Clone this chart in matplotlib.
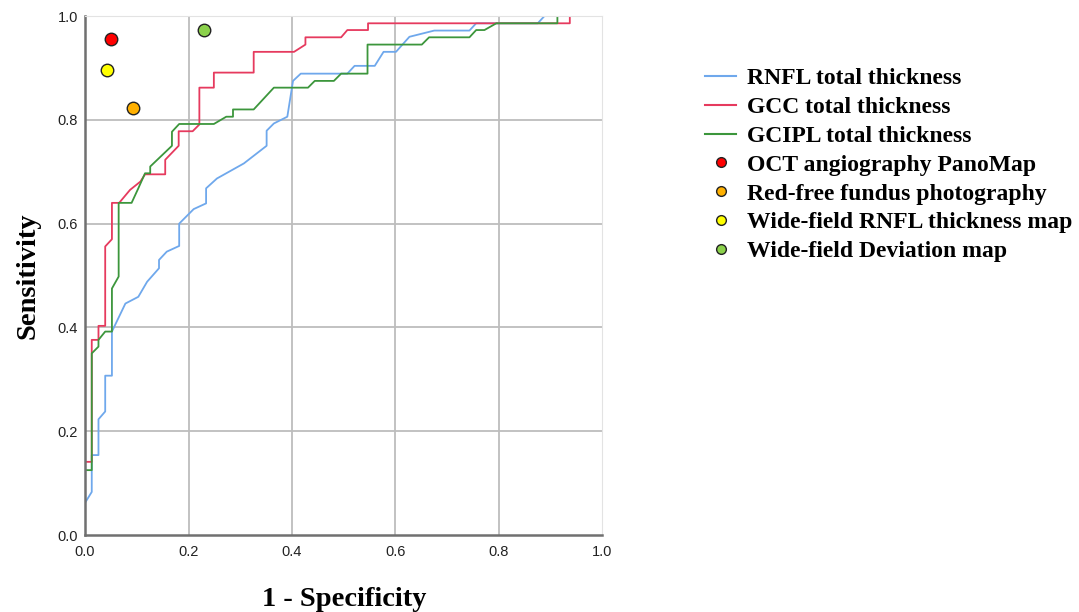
import matplotlib
matplotlib.use("Agg")
import matplotlib.pyplot as plt
from matplotlib.lines import Line2D

# ROC curves (1 - specificity, sensitivity)
rnfl_x = [0, 0, 0.013, 0.013, 0.026, 0.026, 0.039, 0.039, 0.052, 0.052, 0.078, 0.103,
          0.120, 0.143, 0.143, 0.158, 0.182, 0.182, 0.210, 0.234, 0.234, 0.255, 0.307,
          0.351, 0.351, 0.365, 0.391, 0.402, 0.417, 0.507, 0.521, 0.560, 0.577, 0.601,
          0.627, 0.675, 0.743, 0.756, 0.875, 0.888, 1.0]
rnfl_y = [0, 0.062, 0.083, 0.154, 0.154, 0.223, 0.238, 0.307, 0.307, 0.392, 0.446, 0.459,
          0.488, 0.514, 0.530, 0.546, 0.557, 0.600, 0.628, 0.639, 0.668, 0.687, 0.716,
          0.750, 0.779, 0.793, 0.806, 0.875, 0.889, 0.889, 0.904, 0.904, 0.931, 0.931,
          0.960, 0.972, 0.972, 0.986, 0.986, 1.0, 1.0]

gcc_x = [0, 0, 0.013, 0.013, 0.026, 0.026, 0.039, 0.039, 0.052, 0.052, 0.066, 0.087,
         0.107, 0.116, 0.155, 0.155, 0.181, 0.181, 0.208, 0.221, 0.221, 0.249, 0.249,
         0.326, 0.326, 0.404, 0.426, 0.426, 0.495, 0.507, 0.547, 0.547, 0.937, 0.937, 1.0]
gcc_y = [0, 0.141, 0.141, 0.376, 0.376, 0.403, 0.403, 0.556, 0.570, 0.640, 0.640, 0.665,
         0.681, 0.695, 0.695, 0.723, 0.750, 0.778, 0.778, 0.791, 0.862, 0.862, 0.891,
         0.891, 0.931, 0.931, 0.945, 0.959, 0.959, 0.973, 0.973, 0.986, 0.986, 1.0, 1.0]

gcipl_x = [0, 0, 0.013, 0.013, 0.026, 0.026, 0.039, 0.052, 0.052, 0.065, 0.065, 0.090,
           0.103, 0.116, 0.126, 0.126, 0.168, 0.168, 0.182, 0.249, 0.273, 0.286, 0.286,
           0.326, 0.365, 0.431, 0.444, 0.481, 0.495, 0.546, 0.546, 0.651, 0.665, 0.743,
           0.756, 0.772, 0.795, 0.913, 0.913, 1.0]
gcipl_y = [0, 0.125, 0.125, 0.350, 0.363, 0.376, 0.392, 0.392, 0.475, 0.498, 0.640, 0.640,
           0.668, 0.697, 0.697, 0.710, 0.750, 0.777, 0.792, 0.792, 0.806, 0.806, 0.820,
           0.820, 0.862, 0.862, 0.875, 0.875, 0.889, 0.889, 0.945, 0.945, 0.959, 0.959,
           0.973, 0.973, 0.986, 0.986, 1.0, 1.0]

# single-point tests
point_names = ["OCT angiography PanoMap", "Red-free fundus photography",
               "Wide-field RNFL thickness map", "Wide-field Deviation map"]
point_x = [0.050, 0.092, 0.042, 0.230]
point_y = [0.956, 0.822, 0.896, 0.973]
point_colors = ["#FF0000", "#FFB000", "#FFFF00", "#8BD14B"]

curve_names = ["RNFL total thickness", "GCC total thickness", "GCIPL total thickness"]
curve_colors = ["#6FA8EC", "#E63A5E", "#3C963C"]

serif_bold = dict(family="Liberation Serif", weight="bold")

fig = plt.figure(figsize=(10.79, 6.12), dpi=100)
ax = fig.add_axes([0.0788, 0.1258, 0.4795, 0.8480])

for v in [0.2, 0.4, 0.6, 0.8]:
    ax.axvline(v, color="#BDBDBD", lw=1.3, zorder=0)
for v in [0.2, 0.4, 0.6, 0.8, 1.0]:
    ax.axhline(v, color="#BDBDBD", lw=1.3, zorder=0)

curves = [(rnfl_x, rnfl_y), (gcc_x, gcc_y), (gcipl_x, gcipl_y)]
for (xs, ys), c in zip(curves, curve_colors):
    ax.plot(xs, ys, color=c, lw=1.3, zorder=2)

for px, py, c in zip(point_x, point_y, point_colors):
    ax.plot(px, py, "o", ms=9, mfc=c, mec="#222222", mew=1.0, zorder=3)

ax.set_xlim(0, 1.0)
ax.set_ylim(0, 1.0)
ax.set_xticks([0, 0.2, 0.4, 0.6, 0.8, 1.0])
ax.set_yticks([0, 0.2, 0.4, 0.6, 0.8, 1.0])
ax.set_xticklabels(["0.0", "0.2", "0.4", "0.6", "0.8", "1.0"])
ax.set_yticklabels(["0.0", "0.2", "0.4", "0.6", "0.8", "1.0"])
ax.tick_params(length=0, labelsize=10.5)
ax.tick_params(axis="x", pad=7)
ax.tick_params(axis="y", pad=5)
for lab in ax.get_xticklabels() + ax.get_yticklabels():
    lab.set_family("Liberation Sans")
    lab.set_color("#222222")

ax.spines["left"].set_color("#707070")
ax.spines["bottom"].set_color("#707070")
ax.spines["left"].set_linewidth(1.8)
ax.spines["bottom"].set_linewidth(1.8)
ax.spines["top"].set_color("#E3E3E3")
ax.spines["right"].set_color("#E3E3E3")

ax.set_xlabel("1 - Specificity", fontsize=20.5, labelpad=20, **serif_bold)
ax.set_ylabel("Sensitivity", fontsize=20.5, labelpad=12, **serif_bold)

handles = [Line2D([], [], color=c, lw=1.5) for c in curve_colors]
handles += [Line2D([], [], ls="", marker="o", ms=7, mfc=c, mec="#222222", mew=1.0)
            for c in point_colors]
fig.legend(handles, curve_names + point_names, loc="upper left",
           bbox_to_anchor=(0.645, 0.905), frameon=False, borderaxespad=0,
           prop=dict(family="Liberation Serif", weight="bold", size=17),
           handlelength=1.3, handletextpad=0.45, labelspacing=0.31)

fig.savefig("out.png", dpi=100)
